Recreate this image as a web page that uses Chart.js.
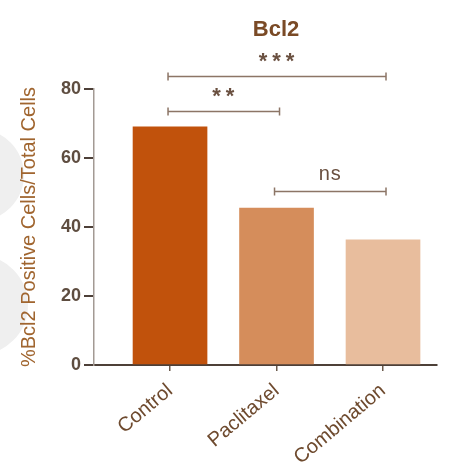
<!DOCTYPE html>
<html>
<head>
<meta charset="utf-8">
<script src="https://cdn.jsdelivr.net/npm/chart.js@4.4.1/dist/chart.umd.min.js"></script>
<style>
  html, body { margin: 0; padding: 0; background: #ffffff; }
  #wrap { width: 453px; height: 473px; position: relative; }
</style>
</head>
<body>
<div id="wrap"><canvas id="bcl2Chart"></canvas></div>
<script>
const groups = ["Control", "Paclitaxel", "Combination"];
const positivePct = [69, 45.5, 36.3];
const yTicks = [0, 20, 40, 60, 80];
// [from group, to group, bracket height (%), label]
const comparisons = [
  [0, 2, 83.7, "***"],
  [0, 1, 73.5, "**"],
  [1, 2, 50.3, "ns"],
];

const barColors = ["#c1520c", "#d58d5b", "#e8bd9d"];
const textColor = "#6e4a2e";
const font = "'Liberation Sans', Arial, sans-serif";

const sigBrackets = {
  id: "sigBrackets",
  afterDatasetsDraw(chart) {
    const { ctx, scales: { x, y } } = chart;
    ctx.save();
    ctx.strokeStyle = "#8c7566";
    ctx.lineWidth = 1.5;
    ctx.fillStyle = "#6a5040";
    ctx.textAlign = "center";
    ctx.textBaseline = "bottom";
    comparisons.forEach(([a, b, level, label]) => {
      const x1 = x.getPixelForValue(a) - 2;
      const x2 = x.getPixelForValue(b) + 3;
      const py = Math.round(y.getPixelForValue(level)) + 0.5;
      ctx.beginPath();
      ctx.moveTo(x1, py);
      ctx.lineTo(x2, py);
      ctx.moveTo(x1, py - 4);
      ctx.lineTo(x1, py + 4);
      ctx.moveTo(x2, py - 4);
      ctx.lineTo(x2, py + 4);
      ctx.stroke();
      if (label === "ns") {
        ctx.font = "20px " + font;
        ctx.letterSpacing = "1px";
        ctx.fillText(label, (x1 + x2) / 2, py - 7);
      } else {
        ctx.font = "bold 22px " + font;
        ctx.letterSpacing = "5px";
        ctx.fillText(label, (x1 + x2) / 2 + 2, py - 4);
      }
    });
    ctx.restore();
  },
};

const header = {
  id: "header",
  beforeDraw(chart) {
    const { ctx } = chart;
    ctx.save();
    // faint grey watermark shapes along the left edge
    ctx.fillStyle = "#efefef";
    ctx.beginPath();
    ctx.arc(-22, 175, 46, 0, Math.PI * 2);
    ctx.fill();
    ctx.beginPath();
    ctx.arc(-22, 305, 50, 0, Math.PI * 2);
    ctx.fill();
    ctx.restore();
  },
  afterDraw(chart) {
    const { ctx } = chart;
    ctx.save();
    ctx.fillStyle = "#7a4a26";
    ctx.font = "bold 22px " + font;
    ctx.textAlign = "center";
    ctx.textBaseline = "middle";
    ctx.fillText("Bcl2", 276, 30);
    ctx.restore();
  },
};

new Chart(document.getElementById("bcl2Chart"), {
  type: "bar",
  data: {
    datasets: [{
      data: positivePct.map((v, i) => ({ x: i, y: v })),
      backgroundColor: barColors,
      borderWidth: 0,
      barThickness: 74,
    }],
  },
  options: {
    responsive: true,
    maintainAspectRatio: false,
    animation: false,
    layout: { padding: { top: 89, right: 16, left: 0, bottom: 0 } },
    plugins: { legend: { display: false }, tooltip: { enabled: false }, title: { display: false } },
    scales: {
      x: {
        type: "linear",
        offset: false,
        min: -0.714,
        max: 2.507,
        afterBuildTicks: (scale) => { scale.ticks = groups.map((_, i) => ({ value: i })); },
        afterFit: (scale) => { scale.height = 108; },
        grid: { drawOnChartArea: false, offset: false, tickLength: 6, color: "#6b5a4c", lineWidth: 1.5 },
        border: { color: "#4d4038", width: 2 },
        ticks: {
          callback: (v) => groups[v],
          minRotation: 40,
          maxRotation: 40,
          padding: 8,
          color: textColor,
          font: { family: font, size: 20 },
        },
      },
      y: {
        min: 0,
        max: 80,
        afterBuildTicks: (scale) => { scale.ticks = yTicks.map((v) => ({ value: v })); },
        afterFit: (scale) => { scale.width = 94; },
        grid: { drawOnChartArea: false, tickLength: 10, color: "#4d4038", lineWidth: 2 },
        border: { color: "#a39a94", width: 1.5 },
        ticks: {
          padding: 3,
          color: "#5e4d40",
          font: { family: font, size: 18, weight: "bold" },
        },
        title: {
          display: true,
          text: "%Bcl2 Positive Cells/Total Cells",
          color: "#a0652f",
          font: { family: font, size: 20 },
          padding: { top: 17, bottom: 0 },
        },
      },
    },
  },
  plugins: [sigBrackets, header],
});
</script>
</body>
</html>
